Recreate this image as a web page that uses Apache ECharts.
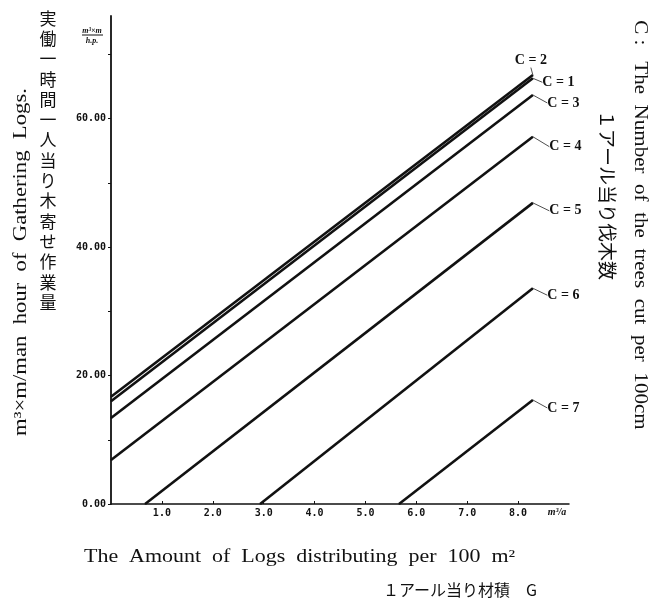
<!DOCTYPE html>
<html>
<head>
<meta charset="utf-8">
<script src="https://cdn.jsdelivr.net/npm/echarts@6/dist/echarts.min.js"></script>
<style>
  html, body { margin: 0; padding: 0; background: #fff; }
  #chart { width: 655px; height: 601px; }
</style>
</head>
<body>
<div id="chart"></div>
<script>
// Log-gathering output per man hour against amount of logs per are (G),
// one straight line for each tree-cutting class C.
const classNames = ['C = 1', 'C = 2', 'C = 3', 'C = 4', 'C = 5', 'C = 6', 'C = 7'];

// [G, output] end points of each line
const lineC1 = [[0, 16.0], [8.29, 66.3]];
const lineC2 = [[0, 16.7], [8.29, 66.8]];
const lineC3 = [[0, 13.4], [8.29, 63.7]];
const lineC4 = [[0, 6.85], [8.29, 57.2]];
const lineC5 = [[0.67, 0], [8.29, 46.9]];
const lineC6 = [[2.93, 0], [8.29, 33.6]];
const lineC7 = [[5.66, 0], [8.29, 16.2]];
const classLines = [lineC1, lineC2, lineC3, lineC4, lineC5, lineC6, lineC7];

const yLabelValues = [0, 20, 40, 60];
const yTickValues = [0, 10, 20, 30, 40, 50, 60, 70];
const xLabelValues = [1, 2, 3, 4, 5, 6, 7, 8];

// where each class label sits relative to the end of its line
const labelOffsets = [
  { pos: 'right', dx: 5, dy: 4 },
  { pos: 'top', dx: -2, dy: -3 },
  { pos: 'right', dx: 10, dy: 8 },
  { pos: 'right', dx: 12, dy: 10 },
  { pos: 'right', dx: 12, dy: 8 },
  { pos: 'right', dx: 10, dy: 7 },
  { pos: 'right', dx: 10, dy: 8 }
];

const chart = echarts.init(document.getElementById('chart'), null, { renderer: 'canvas' });

const tickFont = { fontFamily: 'DejaVu Sans Mono', fontSize: 10, fontWeight: 'bold', color: '#111' };

const series = classLines.map((pts, i) => ({
  type: 'line',
  name: classNames[i],
  data: pts.map((p, j) => ({
    value: p,
    label: j === pts.length - 1 ? {
      show: true,
      position: labelOffsets[i].pos,
      distance: 4,
      formatter: classNames[i],
      fontFamily: 'Liberation Serif',
      fontWeight: 'bold',
      fontSize: 14,
      color: '#111'
    } : { show: false }
  })),
  labelLayout: { dx: labelOffsets[i].dx, dy: labelOffsets[i].dy },
  labelLine: { show: true, smooth: 0.6, lineStyle: { color: '#222', width: 0.8 } },
  showSymbol: true,
  symbol: 'circle',
  symbolSize: 1,
  itemStyle: { color: '#111' },
  lineStyle: { color: '#111', width: 2.6 },
  silent: true,
  animation: false,
  z: 3
}));

const text = (o) => ({ type: 'text', silent: true, ...o });

chart.setOption({
  backgroundColor: '#fff',
  animation: false,
  grid: { left: 111, right: 86, top: 16, bottom: 97, containLabel: false },
  xAxis: {
    type: 'value',
    min: 0,
    max: 9,
    interval: 1,
    axisLine: { show: true, lineStyle: { color: '#111', width: 1.5 } },
    axisTick: { show: true, inside: true, length: 3, customValues: xLabelValues, lineStyle: { color: '#111' } },
    axisLabel: { show: true, margin: 4, customValues: xLabelValues, formatter: v => v.toFixed(1), ...tickFont },
    splitLine: { show: false }
  },
  yAxis: {
    type: 'value',
    min: 0,
    max: 76,
    interval: 20,
    axisLine: { show: true, lineStyle: { color: '#111', width: 1.8 } },
    axisTick: { show: true, length: 3, customValues: yTickValues, lineStyle: { color: '#111' } },
    axisLabel: { show: true, margin: 5, customValues: yLabelValues, formatter: v => v.toFixed(2), ...tickFont },
    splitLine: { show: false }
  },
  series: series,
  graphic: [
    // left axis titles
    text({ x: 21, y: 262, rotation: Math.PI / 2, scaleX: 1.26, style: {
      text: 'm³×m/man  hour  of  Gathering  Logs.', align: 'center', verticalAlign: 'middle',
      font: '18px "Liberation Serif"', fill: '#111' } }),
    text({ x: 48, y: 8, style: {
      text: '実働一時間一人当り木寄せ作業量'.split('').join('\n'), align: 'center', verticalAlign: 'top',
      font: '17px "Noto Sans CJK JP"', lineHeight: 20.3, fill: '#111' } }),
    // y unit as a small fraction
    text({ x: 92, y: 31, style: { text: 'm³×m', align: 'center', verticalAlign: 'middle',
      font: 'italic bold 8px "Liberation Serif"', fill: '#111' } }),
    { type: 'line', silent: true, shape: { x1: 82, y1: 35, x2: 103, y2: 35 }, style: { stroke: '#111', lineWidth: 1 } },
    text({ x: 92, y: 41, style: { text: 'h.p.', align: 'center', verticalAlign: 'middle',
      font: 'italic bold 8px "Liberation Serif"', fill: '#111' } }),
    // x unit
    text({ x: 557, y: 512, style: { text: 'm³/a', align: 'center', verticalAlign: 'middle',
      font: 'italic bold 10px "Liberation Serif"', fill: '#111' } }),
    // bottom axis titles
    text({ x: 84, y: 557, scaleX: 1.22, style: { text: 'The  Amount  of  Logs  distributing  per  100  m²', align: 'left', verticalAlign: 'middle',
      font: '18px "Liberation Serif"', fill: '#111' } }),
    text({ x: 383, y: 590, style: { text: '１アール当り材積　G', align: 'left', verticalAlign: 'middle',
      font: '16px "Noto Sans CJK JP"', fill: '#111' } }),
    // right side legend note
    text({ x: 640, y: 225, rotation: -Math.PI / 2, scaleX: 1.17, style: {
      text: 'C :   The  Number  of  the  trees  cut  per  100cm', align: 'center', verticalAlign: 'middle',
      font: '18px "Liberation Serif"', fill: '#111' } }),
    text({ x: 607, y: 195, rotation: -Math.PI / 2, style: {
      text: '１アール当り伐木数', align: 'center', verticalAlign: 'middle',
      font: '19px "Noto Sans CJK JP"', fill: '#111' } })
  ]
});
</script>
</body>
</html>
